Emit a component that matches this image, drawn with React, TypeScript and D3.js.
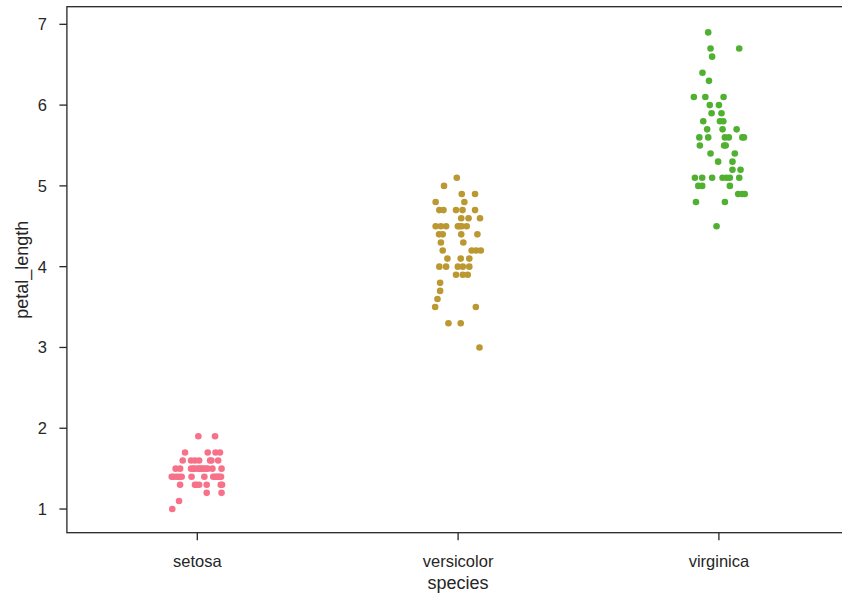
import React from "react";
import * as d3 from "d3";

const species = ["setosa", "versicolor", "virginica"];
const colors = ["#f77189", "#bb9832", "#50b131"];
const yTicks = [1, 2, 3, 4, 5, 6, 7];

// petal_length values and horizontal jitter (in category units)
const setosaLength = [
  1.9, 1.9,
  1.7, 1.7, 1.7, 1.7,
  1.6, 1.6, 1.6, 1.6, 1.6, 1.6, 1.6,
  1.5, 1.5, 1.5, 1.5, 1.5, 1.5, 1.5, 1.5, 1.5, 1.5, 1.5, 1.5, 1.5,
  1.4, 1.4, 1.4, 1.4, 1.4, 1.4, 1.4, 1.4, 1.4, 1.4, 1.4, 1.4, 1.4,
  1.3, 1.3, 1.3, 1.3, 1.3, 1.3, 1.3,
  1.2, 1.2,
  1.1,
  1.0,
];
const setosaJitter = [
  0.004, 0.068,
  -0.047, 0.04, 0.07, 0.087,
  -0.056, -0.024, -0.009, 0.007, 0.049, 0.054, 0.08,
  -0.083, -0.066, -0.024, -0.015, -0.009, 0.004, 0.008, 0.015, 0.023, 0.032, 0.04, 0.058, 0.093,
  -0.098, -0.09, -0.079, -0.07, -0.06, -0.022, 0.027, 0.061, 0.068, 0.074, 0.08, 0.085, 0.091,
  -0.066, -0.009, -0.003, 0.007, 0.036, 0.09, 0.095,
  0.036, 0.093,
  -0.07,
  -0.096,
];

const versicolorLength = [
  5.1,
  5.0,
  4.9, 4.9,
  4.8, 4.8,
  4.7, 4.7, 4.7, 4.7, 4.7,
  4.6, 4.6, 4.6,
  4.5, 4.5, 4.5, 4.5, 4.5, 4.5, 4.5,
  4.4, 4.4, 4.4, 4.4,
  4.3, 4.3,
  4.2, 4.2, 4.2, 4.2,
  4.1, 4.1, 4.1,
  4.0, 4.0, 4.0, 4.0, 4.0,
  3.9, 3.9, 3.9,
  3.8,
  3.7,
  3.6,
  3.5, 3.5,
  3.3, 3.3,
  3.0,
];
const versicolorJitter = [
  -0.005,
  -0.054,
  0.014, 0.065,
  -0.086, 0.024,
  -0.072, -0.056, -0.008, 0.017, 0.065,
  0.012, 0.04, 0.084,
  -0.086, -0.066, -0.046, -0.001, 0.005, 0.014, 0.033,
  -0.073, -0.059, 0.012, 0.074,
  -0.066, 0.02,
  -0.059, 0.052, 0.069, 0.087,
  -0.041, 0.01, 0.043,
  -0.072, -0.046, -0.001, 0.018, 0.043,
  -0.008, 0.018, 0.037,
  -0.069,
  -0.069,
  -0.079,
  -0.088, 0.068,
  -0.037, 0.01,
  0.082,
];

const virginicaLength = [
  6.9,
  6.7, 6.7,
  6.6,
  6.4,
  6.3,
  6.1, 6.1, 6.1,
  6.0, 6.0,
  5.9, 5.9,
  5.8, 5.8, 5.8,
  5.7, 5.7, 5.7,
  5.6, 5.6, 5.6, 5.6, 5.6, 5.6,
  5.5, 5.5, 5.5,
  5.4, 5.4,
  5.3, 5.3,
  5.2, 5.2,
  5.1, 5.1, 5.1, 5.1, 5.1, 5.1, 5.1,
  5.0, 5.0, 5.0,
  4.9, 4.9, 4.9,
  4.8, 4.8,
  4.5,
];
const virginicaJitter = [
  -0.041,
  -0.032, 0.078,
  -0.026,
  -0.063,
  -0.038,
  -0.096, -0.052, 0.018,
  -0.035, 0.0,
  -0.028, 0.01,
  -0.06, 0.004, 0.017,
  -0.045, 0.014, 0.068,
  -0.075, -0.041, 0.023, 0.038, 0.09, 0.096,
  -0.073, 0.02, 0.026,
  -0.032, 0.061,
  -0.003, 0.052,
  0.052, 0.083,
  -0.092, -0.064, -0.026, 0.014, 0.029, 0.042, 0.078,
  -0.079, -0.064, 0.042,
  0.074, 0.089, 0.099,
  -0.088, 0.023,
  -0.009,
];

const lengths = [setosaLength, versicolorLength, virginicaLength];
const jitters = [setosaJitter, versicolorJitter, virginicaJitter];

const W = 842;
const H = 597;
const left = 66.9;
const right = 849.3;
const top = 6.7;
const bottom = 532.7;
const ink = "#262626";
const font = "'Liberation Sans', Arial, sans-serif";

export default function App() {
  const x = d3.scaleLinear().domain([-0.5, 2.5]).range([left, right]);
  const y = d3.scaleLinear().domain([0.707, 7.218]).range([bottom, top]);

  return (
    <svg
      width={W}
      height={H}
      style={{ position: "absolute", left: 0, top: 0, background: "#fff" }}
    >
      <rect x={0} y={0} width={W} height={H} fill="#fff" />
      {lengths.map((vals, si) =>
        vals.map((v, i) => (
          <circle
            key={`${si}-${i}`}
            cx={x(si + jitters[si][i])}
            cy={y(v)}
            r={3.3}
            fill={colors[si]}
          />
        ))
      )}
      <rect
        x={left}
        y={top}
        width={right - left}
        height={bottom - top}
        fill="none"
        stroke={ink}
        strokeWidth={1.3}
      />
      {yTicks.map((t) => (
        <g key={`y${t}`}>
          <line x1={left - 7.5} x2={left} y1={y(t)} y2={y(t)} stroke={ink} strokeWidth={1.3} />
          <text
            x={47}
            y={y(t)}
            dy="0.36em"
            textAnchor="end"
            fontFamily={font}
            fontSize={16.5}
            fill={ink}
          >
            {t}
          </text>
        </g>
      ))}
      {species.map((s, i) => (
        <g key={s}>
          <line x1={x(i)} x2={x(i)} y1={bottom} y2={bottom + 7.5} stroke={ink} strokeWidth={1.3} />
          <text
            x={x(i)}
            y={566.7}
            textAnchor="middle"
            fontFamily={font}
            fontSize={16.5}
            fill={ink}
          >
            {s}
          </text>
        </g>
      ))}
      <text
        x={(left + right) / 2}
        y={589.3}
        textAnchor="middle"
        fontFamily={font}
        fontSize={18}
        fill={ink}
      >
        species
      </text>
      <text
        transform={`translate(28,${(top + bottom) / 2}) rotate(-90)`}
        textAnchor="middle"
        fontFamily={font}
        fontSize={18}
        fill={ink}
      >
        petal_length
      </text>
    </svg>
  );
}
